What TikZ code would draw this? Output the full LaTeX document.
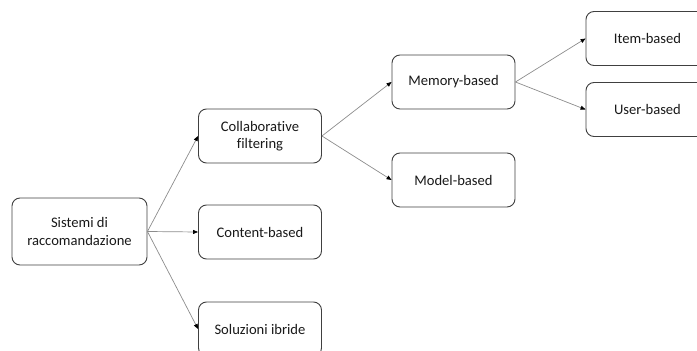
\documentclass[tikz,border=0pt]{standalone}
\usepackage{fontspec}
\setmainfont{Carlito}[Ligatures=NoCommon]
\usetikzlibrary{arrows.meta}
\begin{document}
\begin{tikzpicture}[x=1pt,y=-1pt,
  box/.style={draw=black!75, line width=0.9pt, rounded corners=8pt, fill=white,
    minimum width=123pt, minimum height=54pt, align=center, inner sep=0pt,
    font=\fontsize{14.6}{17.5}\selectfont, text=black!90},
  conn/.style={draw=black!45, line width=0.7pt, -{Triangle[length=5pt,width=4pt,black]}}]
\useasboundingbox (0,0) rectangle (697,351);
\begin{scope}
\clip (0,0) rectangle (697,351);
\node[box, minimum width=135pt, minimum height=67pt] (sis) at (79.5,231.5) {Sistemi di\\raccomandazione};
\node[box] (col) at (260,136) {Collaborative\\filtering};
\node[box] (con) at (260,232) {Content-based};
\node[box] (sol) at (260,329) {Soluzioni ibride};
\node[box] (mem) at (453.5,82) {Memory-based};
\node[box] (mod) at (453.5,180) {Model-based};
\node[box] (ite) at (647.5,38.5) {Item-based};
\node[box] (use) at (647.5,109.5) {User-based};
\end{scope}
\draw[conn] (sis.east) -- (col.west);
\draw[conn] (sis.east) -- (con.west);
\draw[conn] (sis.east) -- (sol.west);
\draw[conn] (col.east) -- (mem.west);
\draw[conn] (col.east) -- (mod.west);
\draw[conn] (mem.east) -- (ite.west);
\draw[conn] (mem.east) -- (use.west);
\end{tikzpicture}
\end{document}
